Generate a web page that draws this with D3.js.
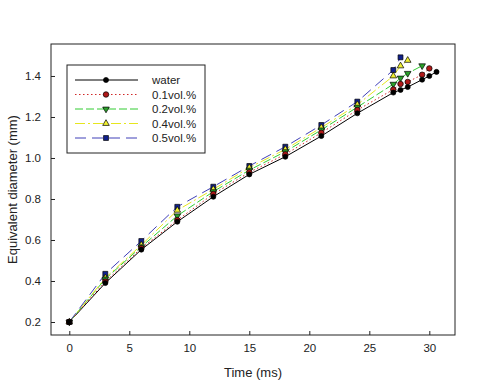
<!DOCTYPE html>
<html lang="en">
  <head>
    <meta charset="utf-8">
    <title>Equivalent diameter vs time</title>
    <style>
      body { margin: 0; background: white; }
      svg { display: block; }
    </style>
    <script src="https://d3js.org/d3.v7.min.js"></script>
  </head>
  <body>
    <div class="chart"></div>
    <script>

    // data
    const seriesNames = ["water", "0.1vol.%", "0.2vol.%", "0.4vol.%", "0.5vol.%"]
    const timeWater = [0, 3, 6, 9, 12, 15, 18, 21, 24, 27, 27.6, 28.2, 29.4, 30, 30.6]
    const time01 = [0, 3, 6, 9, 12, 15, 18, 21, 24, 27, 27.6, 28.2, 29.4, 30]
    const time02 = [0, 3, 6, 9, 12, 15, 18, 21, 24, 27, 27.6, 28.2, 29.4]
    const time04 = [0, 3, 6, 9, 12, 15, 18, 21, 24, 27, 27.6, 28.2]
    const time05 = [0, 3, 6, 9, 12, 15, 18, 21, 24, 27, 27.6]
    const dWater = [0.2, 0.39, 0.553, 0.689, 0.811, 0.92, 1.006, 1.107, 1.218, 1.319, 1.332, 1.346, 1.382, 1.40, 1.42]
    const d01 = [0.2, 0.397, 0.56, 0.697, 0.824, 0.93, 1.018, 1.123, 1.234, 1.334, 1.361, 1.371, 1.406, 1.437]
    const d02 = [0.2, 0.41, 0.567, 0.718, 0.836, 0.941, 1.031, 1.137, 1.248, 1.36, 1.39, 1.413, 1.45]
    const d04 = [0.2, 0.415, 0.575, 0.745, 0.847, 0.953, 1.042, 1.148, 1.26, 1.40, 1.449, 1.476]
    const d05 = [0.2, 0.435, 0.595, 0.762, 0.86, 0.961, 1.055, 1.161, 1.275, 1.429, 1.491]
    const xTicks = [0, 5, 10, 15, 20, 25, 30]
    const yTicks = [0.2, 0.4, 0.6, 0.8, 1.0, 1.2, 1.4]

    const styles = [
      { line: "#000000", fill: "#000000", dash: null, symbol: d3.symbolCircle, size: 20, rot: 0 },
      { line: "#d02828", fill: "#b01818", dash: "1.5,2.5", symbol: d3.symbolCircle, size: 24, rot: 0 },
      { line: "#33cc33", fill: "#2aa02a", dash: "8,3", symbol: d3.symbolTriangle, size: 19, rot: 180 },
      { line: "#e6e61e", fill: "#f0f030", dash: "10,3,2,3", symbol: d3.symbolTriangle, size: 19, rot: 0 },
      { line: "#4040b8", fill: "#10208c", dash: "11,6", symbol: d3.symbolSquare, size: 24, rot: 0 }
    ]

    const times = [timeWater, time01, time02, time04, time05]
    const values = [dWater, d01, d02, d04, d05]
    const series = seriesNames.map((name, i) => ({
      name: name,
      style: styles[i],
      points: times[i].map((t, j) => ({ t: t, d: values[i][j] }))
    }))

    const width = 480, height = 384
    const frame = { left: 51, right: 455, top: 44, bottom: 335 }

    const x = d3.scaleLinear().domain([-1.525, 32.14]).range([frame.left, frame.right])
    const y = d3.scaleLinear().domain([0.1366, 1.556]).range([frame.bottom, frame.top])

    const svg = d3.select(".chart")
      .append("svg")
      .attr("width", width)
      .attr("height", height)
      .style("font-family", "'Liberation Sans', Arial, sans-serif")

    // frame
    svg.append("rect")
      .attr("x", frame.left)
      .attr("y", frame.top)
      .attr("width", frame.right - frame.left)
      .attr("height", frame.bottom - frame.top)
      .attr("fill", "none")
      .attr("stroke", "#222")
      .attr("stroke-width", 1)

    // axes with inward ticks
    const xAxis = svg.append("g")
      .attr("transform", `translate(0,${frame.bottom})`)
      .call(d3.axisBottom(x).tickValues(xTicks).tickSizeInner(-4).tickSizeOuter(0).tickPadding(9))
    const yAxis = svg.append("g")
      .attr("transform", `translate(${frame.left},0)`)
      .call(d3.axisLeft(y).tickValues(yTicks).tickFormat(d3.format(".1f")).tickSizeInner(-4).tickSizeOuter(0).tickPadding(10))
    for (const a of [xAxis, yAxis]) {
      a.select(".domain").remove()
      a.selectAll(".tick line").attr("stroke", "#222")
      a.selectAll(".tick text")
        .style("font-family", "'Liberation Sans', Arial, sans-serif")
        .style("font-size", "11.5px")
        .attr("fill", "#222")
    }

    svg.append("text")
      .attr("x", (frame.left + frame.right) / 2)
      .attr("y", 377)
      .attr("text-anchor", "middle")
      .style("font-size", "13px")
      .attr("fill", "#222")
      .text("Time (ms)")

    svg.append("text")
      .attr("transform", `translate(17,${(frame.top + frame.bottom) / 2}) rotate(-90)`)
      .attr("text-anchor", "middle")
      .style("font-size", "13px")
      .attr("fill", "#222")
      .text("Equivalent diameter (mm)")

    const line = d3.line().x(p => x(p.t)).y(p => y(p.d))

    const marker = (g, s) => g
      .attr("d", d3.symbol().type(s.symbol).size(s.size))
      .attr("fill", s.fill)
      .attr("stroke", "#000")
      .attr("stroke-width", 0.7)

    // lines first, then markers on top (last series drawn first)
    const lines = svg.append("g")
    series.forEach(s => {
      lines.append("path")
        .datum(s.points)
        .attr("d", line)
        .attr("fill", "none")
        .attr("stroke", s.style.line)
        .attr("stroke-width", 1)
        .attr("stroke-dasharray", s.style.dash)
    })
    const marks = svg.append("g")
    series.slice().reverse().forEach(s => {
      marks.selectAll(null)
        .data(s.points)
        .join("path")
        .call(marker, s.style)
        .attr("transform", p => `translate(${x(p.t)},${y(p.d)}) rotate(${s.style.rot})`)
    })

    // legend
    const legend = svg.append("g")
    legend.append("rect")
      .attr("x", 67)
      .attr("y", 65)
      .attr("width", 138)
      .attr("height", 88)
      .attr("fill", "white")
      .attr("stroke", "#222")
    series.forEach((s, i) => {
      const ly = 80 + i * 14.5
      legend.append("line")
        .attr("x1", 75).attr("x2", 138)
        .attr("y1", ly).attr("y2", ly)
        .attr("stroke", s.style.line)
        .attr("stroke-dasharray", s.style.dash)
      legend.append("path")
        .call(marker, s.style)
        .attr("transform", `translate(106,${ly}) rotate(${s.style.rot})`)
      legend.append("text")
        .attr("x", 152)
        .attr("y", ly + 4)
        .style("font-size", "11.5px")
        .attr("fill", "#222")
        .text(s.name)
    })
    </script>
  </body>
</html>
